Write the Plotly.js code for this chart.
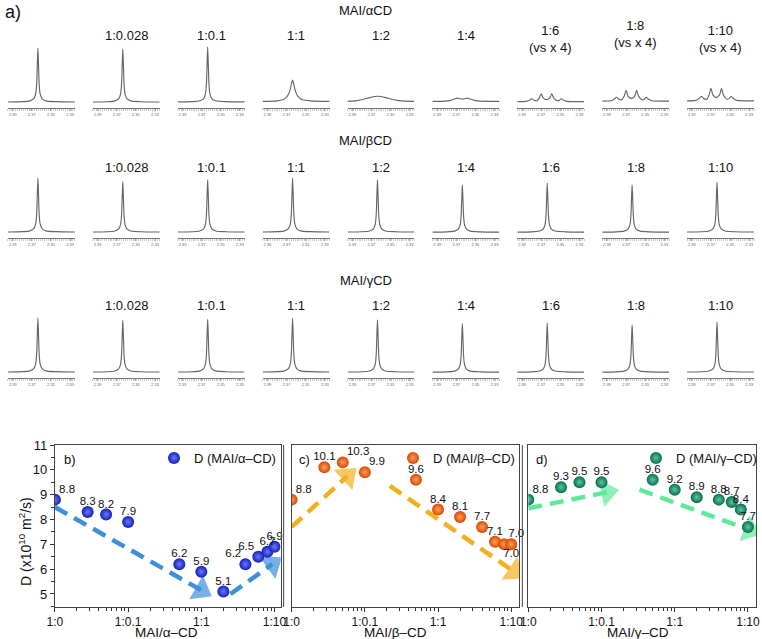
<!DOCTYPE html>
<html>
<head>
<meta charset="utf-8">
<script src="https://cdn.plot.ly/plotly-3.0.1.min.js"></script>
<style>html,body{margin:0;padding:0;background:#fff;}#chart{width:762px;height:639px;}</style>
</head>
<body>
<div id="chart"></div>
<script>
// ---------- Panel a: 1H NMR spectra (line shapes) ----------
const ppmSharp = [2.395, 2.380, 2.372, 2.368, 2.3660, 2.3650, 2.3643, 2.3637, 2.3631, 2.3624, 2.3614, 2.3594, 2.3554, 2.345, 2.325];
const intSharp = [0.02, 0.025, 0.04, 0.08, 0.17, 0.35, 0.72, 1.0, 0.72, 0.35, 0.17, 0.08, 0.04, 0.025, 0.02];
const ppmBroad = [2.395, 2.380, 2.374, 2.3705, 2.368, 2.366, 2.3648, 2.3637, 2.3626, 2.3614, 2.3594, 2.3569, 2.3535, 2.345, 2.325];
const intBroad = [0.03, 0.04, 0.06, 0.10, 0.16, 0.26, 0.36, 0.42, 0.36, 0.26, 0.16, 0.10, 0.06, 0.04, 0.03];
const ppmWide = [2.395, 2.385, 2.378, 2.372, 2.367, 2.3635, 2.360, 2.355, 2.349, 2.342, 2.335, 2.325];
const intWide = [0.03, 0.045, 0.07, 0.10, 0.12, 0.125, 0.12, 0.10, 0.07, 0.045, 0.035, 0.03];
const ppmDouble = [2.395, 2.382, 2.376, 2.372, 2.369, 2.3665, 2.3637, 2.361, 2.3585, 2.3555, 2.351, 2.345, 2.325];
const intDouble = [0.03, 0.035, 0.05, 0.075, 0.09, 0.08, 0.072, 0.08, 0.09, 0.075, 0.05, 0.035, 0.03];
const ppmMulti = [2.395, 2.386, 2.3825, 2.3800, 2.3775, 2.3745, 2.3720, 2.3700, 2.3680, 2.3645, 2.3610, 2.3590, 2.3570, 2.3535, 2.3510, 2.3490, 2.3465, 2.3430, 2.325];
const intMulti = [0.15, 0.18, 0.30, 0.46, 0.30, 0.26, 0.55, 1.0, 0.55, 0.37, 0.55, 1.0, 0.55, 0.26, 0.30, 0.46, 0.30, 0.18, 0.15];

const ratioLabels = ['', '1:0.028', '1:0.1', '1:1', '1:2', '1:4', '1:6', '1:8', '1:10'];
const vsNotes = ['', '', '', '', '', '', '(vs x 4)', '(vs x 4)', '(vs x 4)'];
const ppmTicks = [2.39, 2.37, 2.35, 2.33];
const ppmTickText = ['2.39', '2.37', '2.35', '2.33'];

const rowTitles = ['MAI/αCD', 'MAI/βCD', 'MAI/γCD'];
const alphaKinds = ['sharp', 'sharp', 'sharp', 'broad', 'wide', 'double', 'multi', 'multi', 'multi'];
const alphaHeights = [1.0, 0.99, 1.02, 1.0, 1.0, 1.0, 0.17, 0.23, 0.27];
const betaKinds = ['sharp', 'sharp', 'sharp', 'sharp', 'sharp', 'sharp', 'sharp', 'sharp', 'sharp'];
const betaHeights = [1.0, 0.94, 0.97, 1.0, 0.97, 0.88, 0.91, 0.88, 0.93];
const gammaKinds = ['sharp', 'sharp', 'sharp', 'sharp', 'sharp', 'sharp', 'sharp', 'sharp', 'sharp'];
const gammaHeights = [1.0, 0.96, 0.98, 1.0, 0.97, 0.9, 0.91, 0.88, 0.93];

// ---------- Panels b-d: diffusion coefficients ----------
const ratioX = [0.01, 0.028, 0.05, 0.1, 0.5, 1, 2, 4, 6, 8, 10];
const ratioTickVals = [0.01, 0.1, 1, 10];
const ratioTickText = ['1:0', '1:0.1', '1:1', '1:10'];
const dAlpha = [8.8, 8.3, 8.2, 7.9, 6.2, 5.9, 5.1, 6.2, 6.5, 6.7, 6.9];
const dBeta = [8.8, 10.1, 10.3, 9.9, 9.6, 8.4, 8.1, 7.7, 7.1, 7.0, 7.0];
const dGamma = [8.8, 9.3, 9.5, 9.5, 9.6, 9.2, 8.9, 8.8, 8.7, 8.4, 7.7];
const posAlpha = ['top right','top center','top center','top center','top center','top center','top center','top left','top left','top center','top center'];
const posBeta = ['top right','top center','top right','top right','top center','top center','top center','top center','top center','top right','bottom center'];
const posGamma = ['top right','top center','top center','top center','top center','top center','top center','top center','top center','top center','top center'];

// trend arrows [x0, x1], [y0, y1]
const arrowsAlpha = [[[0.01, 1.0], [8.5, 5.15]], [[2.5, 9.3], [5.0, 6.2]]];
const arrowsBeta = [[[0.01, 0.058], [7.7, 9.75]], [[0.22, 11], [9.35, 5.9]]];
const arrowsGamma = [[[0.01, 0.12], [8.45, 9.1]], [[0.33, 10.7], [9.2, 7.57]]];

// ---------- build ----------
const W = 762, H = 639;
const px = v => v / W;
const py = v => 1 - v / H;

const traces = [];
const layout = {
  width: W, height: H,
  margin: {l: 0, r: 0, t: 0, b: 0},
  paper_bgcolor: '#fff', plot_bgcolor: 'rgba(0,0,0,0)',
  font: {family: 'Liberation Sans, Arial, sans-serif', color: '#111'},
  showlegend: true,
  annotations: [], shapes: []
};

const shapeTable = {
  sharp: [ppmSharp, intSharp], broad: [ppmBroad, intBroad], wide: [ppmWide, intWide],
  double: [ppmDouble, intDouble], multi: [ppmMulti, intMulti]
};
const rowsDef = [
  {kinds: alphaKinds, heights: alphaHeights, off: 0},
  {kinds: betaKinds, heights: betaHeights, off: 130},
  {kinds: gammaKinds, heights: gammaHeights, off: 270}
];

let n = 0;
rowsDef.forEach((row, r) => {
  for (let c = 0; c < 9; c++) {
    n++;
    const sfx = n === 1 ? '' : String(n);
    const left = 8 + 85 * c;
    const sh = shapeTable[row.kinds[c]];
    traces.push({
      type: 'scatter', mode: 'lines',
      x: sh[0], y: sh[1].map(v => v * row.heights[c]),
      xaxis: 'x' + sfx, yaxis: 'y' + sfx,
      line: {color: '#666', width: 1.15, shape: 'spline', smoothing: 0.6},
      showlegend: false, hoverinfo: 'skip'
    });
    layout['xaxis' + sfx] = {
      domain: [px(left), px(left + 67)], anchor: 'y' + sfx,
      range: [2.395, 2.325], showgrid: false, zeroline: false,
      showline: true, linecolor: '#777', linewidth: 1,
      ticks: 'outside', ticklen: 2, tickwidth: 0.6, tickcolor: '#777',
      tickmode: 'array', tickvals: ppmTicks, ticktext: ppmTickText,
      tickfont: {size: 4, color: '#666'},
      minor: {ticks: 'outside', ticklen: 1.5, tickwidth: 0.5, tickcolor: '#999', dtick: 0.002, tick0: 2.325, showgrid: false},
      fixedrange: true
    };
    layout['yaxis' + sfx] = {
      domain: [py(108 + row.off), py(46 + row.off)], anchor: 'x' + sfx,
      range: [-0.09, 1.04], visible: false, fixedrange: true
    };
    const cx = px(left + 33.5);
    if (ratioLabels[c]) {
      const twoLine = r === 0 && vsNotes[c];
      layout.annotations.push({
        xref: 'paper', yref: 'paper', x: cx, y: py((twoLine ? (c === 7 ? 34 : 39) : 35) + row.off + (r === 1 ? 2 : 0)),
        xanchor: 'center', yanchor: 'middle', showarrow: false,
        text: twoLine ? ratioLabels[c] + '<br>' + vsNotes[c] : ratioLabels[c],
        font: {size: 13, color: '#111'}
      });
    }
  }
  layout.annotations.push({
    xref: 'paper', yref: 'paper', x: px(366), y: py(10 + row.off),
    xanchor: 'center', yanchor: 'middle', showarrow: false,
    text: rowTitles[r], font: {size: 13, color: '#111'}
  });
});
layout.annotations.push({
  xref: 'paper', yref: 'paper', x: px(3), y: py(12), xanchor: 'left', yanchor: 'middle',
  showarrow: false, text: 'a)', font: {size: 18, color: '#111'}
});

// bottom panels
const minorVals = [];
[0.01, 0.1, 1, 10].forEach(d => { for (let k = 2; k <= 9; k++) minorVals.push(d * k); });

const panels = [
  {d: dAlpha, pos: posAlpha, arrows: arrowsAlpha, name: 'D (MAI/α–CD)', xt: 'MAI/α–CD', lab: 'b)',
   l: 55, r: 281, col: '#1420b8', ctr: '#6a78ff', arrow: '#3d8fd9', leg: 154, labx: 62, xtx: 167},
  {d: dBeta, pos: posBeta, arrows: arrowsBeta, name: 'D (MAI/β–CD)', xt: 'MAI/β–CD', lab: 'c)',
   l: 292, r: 520, col: '#d94800', ctr: '#ffa060', arrow: '#f2b01e', leg: 393, labx: 297, xtx: 396},
  {d: dGamma, pos: posGamma, arrows: arrowsGamma, name: 'D (MAI/γ–CD)', xt: 'MAI/γ–CD', lab: 'd)',
   l: 529, r: 757, col: '#0b6e4e', ctr: '#56c8a2', arrow: '#5ee89a', leg: 637, labx: 535, xtx: 639}
];

panels.forEach((p, i) => {
  n++;
  const sfx = String(n);
  const legId = i === 0 ? 'legend' : 'legend' + (i + 1);
  p.arrows.forEach(a => {
    traces.push({
      type: 'scatter', mode: 'lines+markers', x: a[0], y: a[1],
      xaxis: 'x' + sfx, yaxis: 'y' + sfx,
      line: {color: p.arrow, width: 4.5, dash: '14px,8px'},
      marker: {symbol: 'triangle-up', size: [0, 24], color: p.arrow, angleref: 'previous', line: {width: 0}},
      showlegend: false, hoverinfo: 'skip'
    });
  });
  traces.push({
    type: 'scatter', mode: 'markers', x: ratioX, y: p.d,
    xaxis: 'x' + sfx, yaxis: 'y' + sfx,
    name: p.name, legend: legId,
    marker: {size: 12, color: p.col, gradient: {type: 'radial', color: p.ctr}, line: {width: 0}},
    hoverinfo: 'x+y'
  });
  // value labels (invisible small markers only set the label offset)
  traces.push({
    type: 'scatter', mode: 'markers+text', x: ratioX, y: p.d,
    text: p.d.map(v => v.toFixed(1)), textposition: p.pos,
    textfont: {size: 11.5, color: '#111'}, cliponaxis: false,
    xaxis: 'x' + sfx, yaxis: 'y' + sfx,
    marker: {size: 5, color: 'rgba(0,0,0,0)'},
    showlegend: false, hoverinfo: 'skip'
  });
  const decade = 73.3;
  layout['xaxis' + sfx] = {
    domain: [px(p.l), px(p.r)], anchor: 'y' + sfx, type: 'log',
    range: [-2, -2 + (p.r - p.l) / decade],
    tickmode: 'array', tickvals: ratioTickVals, ticktext: ratioTickText,
    tickfont: {size: 12, color: '#111'},
    ticks: 'outside', ticklen: 4, tickcolor: '#333',
    minor: {ticks: 'outside', ticklen: 2.5, tickcolor: '#333', tickvals: minorVals, showgrid: false},
    showline: true, linecolor: '#444', linewidth: 1, mirror: true,
    showgrid: false, zeroline: false, fixedrange: true
  };
  layout['yaxis' + sfx] = {
    domain: [py(607), py(445)], anchor: 'x' + sfx,
    range: [4.476, 11], dtick: 1, tick0: 5,
    tickfont: {size: 13, color: '#111'},
    showticklabels: i === 0,
    ticks: i === 0 ? 'outside' : '', ticklen: 4, tickcolor: '#333',
    minor: i === 0 ? {ticks: 'outside', ticklen: 2.5, dtick: 0.5, tickcolor: '#333', showgrid: false} : {ticks: ''},
    showline: true, linecolor: '#444', linewidth: 1, mirror: true,
    showgrid: false, zeroline: false, fixedrange: true
  };
  layout[legId] = {
    x: px(p.leg), y: py(443), xanchor: 'left', yanchor: 'top',
    bgcolor: 'rgba(0,0,0,0)', borderwidth: 0, font: {size: 13, color: '#111'}
  };
  layout.annotations.push({
    xref: 'paper', yref: 'paper', x: px(p.labx), y: py(460), xanchor: 'left', yanchor: 'middle',
    showarrow: false, text: p.lab, font: {size: 13, color: '#111'}
  });
  layout.annotations.push({
    xref: 'paper', yref: 'paper', x: px(p.xtx), y: py(632), xanchor: 'center', yanchor: 'middle',
    showarrow: false, text: p.xt, font: {size: 13.5, color: '#111'}
  });
});

layout.annotations.push({
  xref: 'paper', yref: 'paper', x: px(25), y: py(541), xanchor: 'center', yanchor: 'middle',
  textangle: -90, showarrow: false,
  text: 'D (x10<sup>10</sup> m<sup>2</sup>/s)', font: {size: 14, color: '#111'}
});
// extra panel frame lines between plots
[284, 523].forEach(xv => layout.shapes.push({
  type: 'line', xref: 'paper', yref: 'paper', x0: px(xv), x1: px(xv), y0: py(607), y1: py(445),
  line: {color: '#444', width: 1}
}));

Plotly.newPlot('chart', traces, layout, {displayModeBar: false, staticPlot: true});
</script>
</body>
</html>
